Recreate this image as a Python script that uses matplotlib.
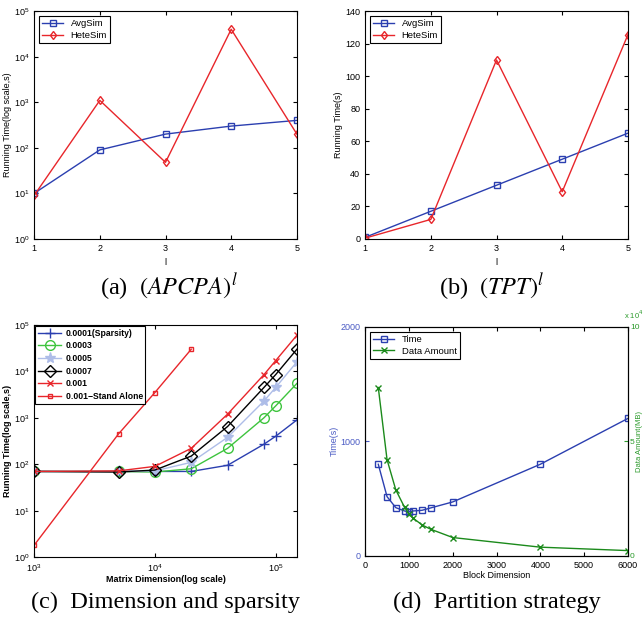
import numpy as np
import matplotlib.pyplot as plt

# (a) APCPA path, log scale
len_a = [1, 2, 3, 4, 5]
avg_a = [10, 90, 200, 300, 400]
hete_a = [9, 1100, 48, 40000, 200]

# (b) TPT path
len_b = [1, 2, 3, 4, 5]
avg_b = [1, 17, 33, 49, 65]
hete_b = [0.5, 12, 110, 29, 125.5]

# (c) matrix dimension vs sparsity
dims = [1000, 5000, 10000, 20000, 40000, 80000, 100000, 150000]
sp_0001 = [70, 70, 70, 70, 95, 270, 400, 900]
sp_0003 = [70, 70, 68, 80, 220, 1000, 1800, 5500]
sp_0005 = [70, 70, 72, 110, 380, 2300, 4500, 16000]
sp_0007 = [70, 68, 75, 150, 650, 4500, 8500, 30000]
sp_001 = [70, 72, 90, 220, 1200, 8500, 17000, 60000]
dims_alone = [1000, 5000, 10000, 20000]
sp_001_alone = [1.8, 450, 3500, 30000]

# (d) partition strategy
block = [300, 500, 700, 900, 1000, 1100, 1300, 1500, 2000, 4000, 6000]
time_d = [800, 517, 421, 392, 384, 392, 398, 419, 471, 800, 1200]
data_d = [7.35, 4.2, 2.88, 2.12, 1.83, 1.64, 1.35, 1.16, 0.8, 0.38, 0.23]  # x 10^4 MB

plt.rcParams['font.family'] = ['Liberation Sans', 'DejaVu Sans']
plt.rcParams['font.size'] = 6.5
plt.rcParams['axes.linewidth'] = 0.8
plt.rcParams['xtick.direction'] = 'in'
plt.rcParams['ytick.direction'] = 'in'
plt.rcParams['xtick.top'] = True
plt.rcParams['ytick.right'] = True
plt.rcParams['xtick.major.size'] = 3
plt.rcParams['ytick.major.size'] = 3
plt.rcParams['xtick.minor.visible'] = False
plt.rcParams['ytick.minor.visible'] = False

BLUE = '#2b3fb0'
RED = '#e8262b'

fig = plt.figure(figsize=(6.44, 6.19), dpi=100)
ax_a = fig.add_axes([0.053, 0.614, 0.408, 0.368])
ax_b = fig.add_axes([0.567, 0.614, 0.408, 0.368])
ax_c = fig.add_axes([0.053, 0.100, 0.408, 0.375])
ax_d = fig.add_axes([0.567, 0.102, 0.408, 0.370])

def legend_box(ax, **kw):
    leg = ax.legend(loc='upper left', fancybox=False, edgecolor='black',
                    framealpha=1, handlelength=2.2, borderpad=0.35,
                    labelspacing=0.3, **kw)
    leg.get_frame().set_linewidth(0.8)
    return leg

# (a)
ax_a.plot(len_a, avg_a, color=BLUE, marker='s', ms=4, mfc='none', lw=1, label='AvgSim')
ax_a.plot(len_a, hete_a, color=RED, marker='d', ms=4.5, mfc='none', lw=1, label='HeteSim')
ax_a.set_yscale('log')
ax_a.set_ylim(1, 1e5)
ax_a.set_xlim(1, 5)
ax_a.set_xticks(len_a)
ax_a.minorticks_off()
ax_a.set_ylabel('Running Time(log scale,s)', labelpad=1)
ax_a.set_xlabel('l', labelpad=4)
legend_box(ax_a, fontsize=6.8)

# (b)
ax_b.plot(len_b, avg_b, color=BLUE, marker='s', ms=4, mfc='none', lw=1, label='AvgSim')
ax_b.plot(len_b, hete_b, color=RED, marker='d', ms=4.5, mfc='none', lw=1, label='HeteSim')
ax_b.set_ylim(0, 140)
ax_b.set_xlim(1, 5)
ax_b.set_xticks(len_b)
ax_b.set_yticks(range(0, 141, 20))
ax_b.set_ylabel('Running Time(s)', labelpad=2)
ax_b.set_xlabel('l', labelpad=4)
legend_box(ax_b, fontsize=6.8)

# (c)
ax_c.plot(dims, sp_0001, color=BLUE, marker='+', ms=7, lw=1, label='0.0001(Sparsity)')
ax_c.plot(dims, sp_0003, color='#3ec43e', marker='o', ms=7, mfc='none', lw=1, label='0.0003')
ax_c.plot(dims, sp_0005, color='#aebde8', marker='*', ms=8, lw=1, label='0.0005')
ax_c.plot(dims, sp_0007, color='black', marker='D', ms=6, mfc='none', lw=1, label='0.0007')
ax_c.plot(dims, sp_001, color=RED, marker='x', ms=5, lw=1, label='0.001')
ax_c.plot(dims_alone, sp_001_alone, color=RED, marker='s', ms=3.5, mfc='none', lw=1,
          label='0.001\u2212Stand Alone')
ax_c.set_xscale('log')
ax_c.set_yscale('log')
ax_c.set_xlim(1000, 150000)
ax_c.set_ylim(1, 1e5)
ax_c.minorticks_off()
ax_c.set_xlabel('Matrix Dimension(log scale)', fontweight='bold', labelpad=1)
ax_c.set_ylabel('Running Time(log scale,s)', fontweight='bold', labelpad=1)
leg = ax_c.legend(loc='upper left', fancybox=False, edgecolor='black', framealpha=1,
                  handlelength=2.7, borderpad=0.3, labelspacing=0.42, handletextpad=0.5,
                  borderaxespad=0.15, prop={'weight': 'bold', 'size': 6.2})
leg.get_frame().set_linewidth(0.8)

# (d)
ax_d.plot(block, time_d, color=BLUE, marker='s', ms=4, mfc='none', lw=1, label='Time')
ax_d.set_xlim(0, 6000)
ax_d.set_ylim(0, 2000)
ax_d.set_yticks([0, 1000, 2000])
ax_d.set_xticks(range(0, 6001, 1000))
ax_d.tick_params(axis='y', colors='#4a5bc4', right=False)
ax_d.set_ylabel('Time(s)', color='#4a5bc4', labelpad=1)
ax_d.set_xlabel('Block Dimension', labelpad=1)
ax_d2 = ax_d.twinx()
ax_d2.plot(block, data_d, color='#1b8a1b', marker='x', ms=4, lw=1, label='Data Amount')
ax_d2.set_ylim(0, 10)
ax_d2.set_yticks([0, 5, 10])
ax_d2.tick_params(axis='y', colors='#2a9a2a', direction='in', left=False, pad=1.5,
                  labelsize=6)
ax_d2.set_ylabel('Data Amount(MB)', color='#2a9a2a', fontsize=5.5)
ax_d2.yaxis.set_label_coords(1.031, 0.5)
ax_d2.text(0.985, 1.025, 'x 10$^4$', transform=ax_d2.transAxes, color='#2a9a2a',
           fontsize=5.5, ha='left', va='bottom')
h1, l1 = ax_d.get_legend_handles_labels()
h2, l2 = ax_d2.get_legend_handles_labels()
leg = ax_d.legend(h1 + h2, l1 + l2, loc='upper left', fancybox=False, edgecolor='black',
                  framealpha=1, handlelength=2.2, borderpad=0.35, labelspacing=0.3, fontsize=6.8)
leg.get_frame().set_linewidth(0.8)

# captions
cap = dict(fontsize=17.5, family='Liberation Serif', ha='center', va='center', math_fontfamily='stix')
fig.text(0.262, 1 - 287 / 619, r'(a)  $(APCPA)^l$', **cap)
fig.text(0.763, 1 - 287 / 619, r'(b)  $(TPT)^l$', **cap)
fig.text(0.257, 1 - 602 / 619, '(c)  Dimension and sparsity', **cap)
fig.text(0.771, 1 - 602 / 619, '(d)  Partition strategy', **cap)

fig.savefig('out.png', dpi=100)
